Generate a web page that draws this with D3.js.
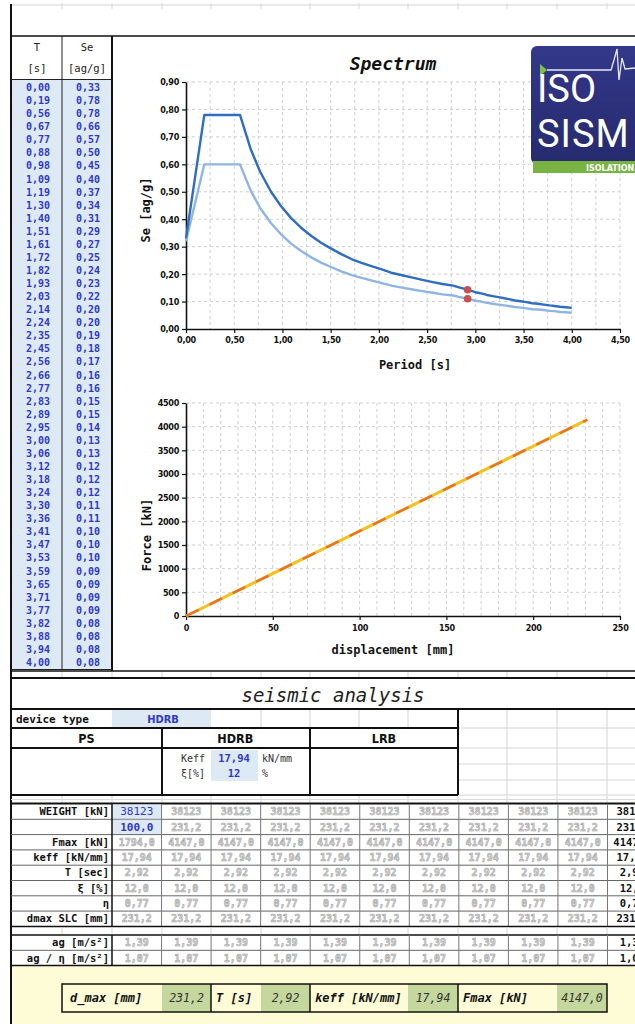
<!DOCTYPE html>
<html><head><meta charset="utf-8">
<script src="https://cdn.jsdelivr.net/npm/d3@7"></script>
<style>
html,body{margin:0;padding:0;background:#fff;}
svg{display:block;}
</style></head><body>
<svg id="sheet" width="635" height="1024"></svg>
<script>
// ---- spectrum table (period T [s], elastic Se [ag/g], damped Se [ag/g]) ----
const periods = [0.00,0.19,0.56,0.67,0.77,0.88,0.98,1.09,1.19,1.30,1.40,1.51,1.61,1.72,1.82,1.93,2.03,2.14,2.24,2.35,2.45,2.56,2.66,2.77,2.83,2.89,2.95,3.00,3.06,3.12,3.18,3.24,3.30,3.36,3.41,3.47,3.53,3.59,3.65,3.71,3.77,3.82,3.88,3.94,4.00];
const seElastic = [0.330,0.780,0.780,0.656,0.572,0.501,0.450,0.404,0.370,0.339,0.314,0.292,0.273,0.254,0.241,0.228,0.217,0.204,0.196,0.187,0.179,0.171,0.164,0.158,0.152,0.146,0.140,0.134,0.130,0.124,0.120,0.116,0.112,0.108,0.104,0.101,0.098,0.094,0.092,0.089,0.086,0.084,0.081,0.079,0.077];
const seDamped = [0.320,0.600,0.600,0.505,0.440,0.386,0.347,0.311,0.285,0.261,0.242,0.225,0.210,0.196,0.186,0.176,0.167,0.157,0.151,0.144,0.138,0.132,0.126,0.122,0.117,0.112,0.108,0.103,0.100,0.095,0.092,0.089,0.086,0.083,0.080,0.078,0.075,0.072,0.071,0.069,0.066,0.065,0.062,0.061,0.059];
const designPeriod = 2.92;
const designSe = [0.143, 0.110];

// ---- force / displacement curve ----
const displacement = [0, 231.2];
const force = [0, 4147.0];

// ---- axis ticks ----
const periodTicks = [0,0.5,1,1.5,2,2.5,3,3.5,4,4.5];
const seTicks = [0,0.1,0.2,0.3,0.4,0.5,0.6,0.7,0.8,0.9];
const dispTicks = [0,50,100,150,200,250];
const forceTicks = [0,500,1000,1500,2000,2500,3000,3500,4000,4500];

// ---- seismic analysis table ----
const deviceType = "HDRB";
const deviceGroups = ["PS","HDRB","LRB"];
const keffInput = 17.94;
const dampingInput = 12;
const resultLabels = ["WEIGHT [kN]","","Fmax [kN]","keff [kN/mm]","T [sec]","ξ [%]","η","dmax SLC [mm]"];
const accelLabels = ["ag [m/s²]","ag / η [m/s²]"];
const firstColumn = [38123, 100.0, 1794.0, 17.94, 2.92, 12.0, 0.77, 231.2];
const otherColumns = [38123, 231.2, 4147.0, 17.94, 2.92, 12.0, 0.77, 231.2];
const accelValues = [1.39, 1.07];
const resultDigits = [0,1,1,2,2,1,2,1];
const summaryLabels = ["d_max [mm]","T [s]","keff [kN/mm]","Fmax [kN]"];
const summaryValues = [231.2, 2.92, 17.94, 4147.0];
const summaryDigits = [1,2,2,1];

const loc = d3.formatLocale({decimal:",", thousands:".", grouping:[3], currency:["",""]});
const fmt = d => loc.format("." + d + "f");

const MONO = "'DejaVu Sans Mono','Liberation Mono',monospace";
const COND = "'DejaVu Sans Condensed','DejaVu Sans',sans-serif";
const BLUE_TXT = "#2f38c6";
const CELL_BLUE = "#ddeaf6";

const svg = d3.select("#sheet");
svg.append("rect").attr("width",635).attr("height",1024).attr("fill","#fff");

function line(g, x1, y1, x2, y2, w, c) {
  g.append("line").attr("x1",x1).attr("y1",y1).attr("x2",x2).attr("y2",y2)
    .attr("stroke",c).attr("stroke-width",w);
}
// sheet column edges
const colEdges = [11,62,112,162,211,261,310,359,408,458,507,557,607];

// ---------- frame ----------
const frame = svg.append("g");
line(frame, 11, 5, 635, 5, 1, "#d2d2d2");
colEdges.slice(1).forEach(x => line(frame, x, 3, x, 9, 1, "#d8d8d8"));
line(frame, 11, 36, 635, 36, 1.5, "#111");
line(frame, 11, 4, 11, 1024, 2, "#111");

// ---------- left table ----------
const lt = svg.append("g");
lt.append("rect").attr("x",12).attr("y",80).attr("width",99).attr("height",589).attr("fill",CELL_BLUE);
line(lt, 62, 36, 62, 670, 1, "#222");
line(lt, 11, 79.5, 112, 79.5, 1, "#222");
line(lt, 11, 669.5, 112, 669.5, 1, "#222");
line(lt, 112, 36, 112, 671, 2, "#111");
[["T",37],["Se",87]].forEach(([t,x]) => lt.append("text").attr("x",x).attr("y",51).attr("text-anchor","middle")
  .attr("font-family",MONO).attr("font-size",10.5).attr("fill","#222").text(t));
[["[s]",37],["[ag/g]",87]].forEach(([t,x]) => lt.append("text").attr("x",x).attr("y",72).attr("text-anchor","middle")
  .attr("font-family",MONO).attr("font-size",10.5).attr("fill","#222").text(t));
const rowBand = d3.scaleBand().domain(d3.range(periods.length)).range([81,669]);
periods.forEach((t,i) => {
  const yy = rowBand(i) + rowBand.bandwidth()/2 + 3.5;
  lt.append("text").attr("x",38).attr("y",yy).attr("text-anchor","middle").attr("font-family",MONO)
    .attr("font-weight","bold").attr("font-size",10).attr("fill",BLUE_TXT).text(fmt(2)(t));
  lt.append("text").attr("x",88).attr("y",yy).attr("text-anchor","middle").attr("font-family",MONO)
    .attr("font-weight","bold").attr("font-size",10).attr("fill",BLUE_TXT).text(fmt(2)(seElastic[i]));
});

// chart area bottom edge
line(frame, 11, 671, 635, 671, 1.5, "#111");
colEdges.slice(1).forEach(x => line(frame, x, 672, x, 677, 1, "#d4d4d4"));
line(frame, 11, 678, 635, 678, 2, "#111");

// ---------- spectrum chart ----------
const sp = svg.append("g");
const xs = d3.scaleLinear().domain([0,4.5]).range([186,620]);
const ys = d3.scaleLinear().domain([0,0.9]).range([329,82]);
sp.append("text").attr("x",393).attr("y",70).attr("text-anchor","middle").attr("font-family",MONO)
  .attr("font-weight","bold").attr("font-style","italic").attr("font-size",18).attr("fill","#111").text("Spectrum");
const grid = sp.append("g");
d3.range(0.25,4.51,0.25).forEach(v => line(grid, xs(v), ys(0.9), xs(v), ys(0), 1, "#cfcfcf"));
seTicks.slice(1).forEach(v => line(grid, xs(0), ys(v), xs(4.5), ys(v), 1, "#cfcfcf"));
grid.selectAll("line").attr("stroke-dasharray","3,3");
function styleAxis(g) {
  g.select(".domain").attr("stroke","#111").attr("stroke-width",1.6);
  g.selectAll(".tick line").attr("stroke","#111").attr("stroke-width",1.2);
  g.selectAll(".tick text").attr("font-family",COND).attr("font-weight","bold").attr("font-size",9)
    .attr("fill","#111").attr("letter-spacing","-0.3");
}
sp.append("g").attr("transform",`translate(${xs(0)},0)`)
  .call(d3.axisLeft(ys).tickValues(seTicks).tickFormat(fmt(2)).tickSize(4).tickSizeOuter(0).tickPadding(3))
  .call(styleAxis);
sp.append("g").attr("transform",`translate(0,${ys(0)})`)
  .call(d3.axisBottom(xs).tickValues(periodTicks).tickFormat(fmt(2)).tickSize(4).tickSizeOuter(0).tickPadding(4))
  .call(styleAxis);
const spLine = d3.line().x(d => xs(d[0])).y(d => ys(d[1]));
sp.append("path").attr("d", spLine(periods.map((t,i)=>[t,seDamped[i]])))
  .attr("fill","none").attr("stroke","#8fb5e4").attr("stroke-width",2.4).attr("stroke-linejoin","round");
sp.append("path").attr("d", spLine(periods.map((t,i)=>[t,seElastic[i]])))
  .attr("fill","none").attr("stroke","#2f6dc3").attr("stroke-width",2.4).attr("stroke-linejoin","round");
designSe.forEach(v => sp.append("circle").attr("cx",xs(designPeriod)).attr("cy",ys(v)).attr("r",3.8).attr("fill","#c9504e"));
sp.append("text").attr("transform",`translate(150,210) rotate(-90)`).attr("text-anchor","middle")
  .attr("font-family",MONO).attr("font-weight","bold").attr("font-size",12).attr("fill","#111").text("Se [ag/g]");
sp.append("text").attr("x",415).attr("y",369).attr("text-anchor","middle")
  .attr("font-family",MONO).attr("font-weight","bold").attr("font-size",12).attr("fill","#111").text("Period [s]");

// ---------- logo ----------
const logo = svg.append("g");
const grad = svg.append("defs").append("linearGradient").attr("id","logoBg").attr("x1",0).attr("y1",0).attr("x2",0).attr("y2",1);
grad.append("stop").attr("offset","0%").attr("stop-color","#33388a");
grad.append("stop").attr("offset","100%").attr("stop-color","#262a6e");
logo.append("rect").attr("x",531).attr("y",46).attr("width",120).attr("height",118).attr("rx",6).attr("fill","url(#logoBg)");
logo.append("rect").attr("x",533).attr("y",161).attr("width",110).attr("height",12).attr("fill","#78b343");
logo.append("text").attr("x",586).attr("y",170.5).attr("font-family","'DejaVu Sans',sans-serif").attr("font-weight","bold")
  .attr("font-size",8).attr("fill","#fff").text("ISOLATION");
logo.append("path").attr("d","M540,64 L547,70 L540,76 Z").attr("fill","#7cc142");
logo.append("path").attr("d","M547,70 L611,70 L614,60 L617,49 L619,80 L622,58 L625,69 L635,68")
  .attr("fill","none").attr("stroke","#e8e8f4").attr("stroke-width",1.3);
logo.append("text").attr("x",537).attr("y",102).attr("font-family","Roboto,'Open Sans',sans-serif")
  .attr("font-size",38).attr("fill","#fff").text("ISO");
logo.append("text").attr("x",537).attr("y",147).attr("font-family","Roboto,'Open Sans',sans-serif")
  .attr("font-size",38).attr("fill","#fff").attr("letter-spacing","1").text("SISM");

// ---------- force / displacement chart ----------
const fc = svg.append("g");
const xf = d3.scaleLinear().domain([0,250]).range([186,620]);
const yf = d3.scaleLinear().domain([0,4500]).range([616,403]);
const fgrid = fc.append("g");
d3.range(10,251,10).forEach(v => line(fgrid, xf(v), yf(4500), xf(v), yf(0), 1, "#cfcfcf"));
forceTicks.slice(1).forEach(v => line(fgrid, xf(0), yf(v), xf(250), yf(v), 1, "#cfcfcf"));
fgrid.selectAll("line").attr("stroke-dasharray","3,3");
fc.append("g").attr("transform",`translate(${xf(0)},0)`)
  .call(d3.axisLeft(yf).tickValues(forceTicks).tickFormat(fmt(0)).tickSize(4).tickSizeOuter(0).tickPadding(3))
  .call(styleAxis);
fc.append("g").attr("transform",`translate(0,${yf(0)})`)
  .call(d3.axisBottom(xf).tickValues(dispTicks).tickFormat(fmt(0)).tickSize(4).tickSizeOuter(0).tickPadding(5))
  .call(styleAxis);
const fLine = d3.line().x(d => xf(d[0])).y(d => yf(d[1]));
const fPts = displacement.map((d,i)=>[d,force[i]]);
fc.append("path").attr("d",fLine(fPts)).attr("fill","none").attr("stroke","#f3c21c").attr("stroke-width",3);
fc.append("path").attr("d",fLine(fPts)).attr("fill","none").attr("stroke","#e8682a").attr("stroke-width",2.4)
  .attr("stroke-dasharray","14,12").attr("opacity",0.9);
fc.append("text").attr("transform",`translate(151,535) rotate(-90)`).attr("text-anchor","middle")
  .attr("font-family",MONO).attr("font-weight","bold").attr("font-size",12).attr("fill","#111").text("Force [kN]");
fc.append("text").attr("x",393).attr("y",654).attr("text-anchor","middle")
  .attr("font-family",MONO).attr("font-weight","bold").attr("font-size",12).attr("fill","#111").text("displacement [mm]");

// ---------- seismic analysis header block ----------
const sa = svg.append("g");
sa.append("text").attr("x",333).attr("y",702).attr("text-anchor","middle").attr("font-family",MONO)
  .attr("font-style","italic").attr("font-size",19).attr("fill","#222").text("seismic analysis");
line(sa, 11, 709, 635, 709, 2, "#111");
// light grid on the right side
[507,557,607].forEach(x => line(sa, x, 710, x, 795, 1, "#d4d4d4"));
[261,310,359,408].forEach(x => line(sa, x, 710, x, 727, 1, "#d4d4d4"));
[728,748,764,780,795].forEach(y => line(sa, 459, y, 635, y, 1, "#d4d4d4"));
sa.append("rect").attr("x",112).attr("y",710).attr("width",99).attr("height",17).attr("fill",CELL_BLUE);
sa.append("text").attr("x",16).attr("y",723).attr("font-family",MONO).attr("font-weight","bold")
  .attr("font-size",11).attr("fill","#111").text("device type");
sa.append("text").attr("x",163).attr("y",723).attr("text-anchor","middle").attr("font-family",COND).attr("font-weight","bold")
  .attr("font-size",11).attr("fill",BLUE_TXT).text(deviceType);
line(sa, 11, 728, 458, 728, 2, "#111");
line(sa, 11, 748, 458, 748, 2, "#111");
line(sa, 11, 795, 458, 795, 2, "#111");
[162,310].forEach(x => line(sa, x, 728, x, 795, 2, "#111"));
line(sa, 458, 709, 458, 795, 2, "#111");
const groupX = d3.scalePoint().domain(deviceGroups).range([86.5,384]);
deviceGroups.forEach(g => sa.append("text").attr("x",groupX(g)).attr("y",743).attr("text-anchor","middle")
  .attr("font-family",COND).attr("font-weight","bold").attr("font-size",12.5).attr("fill","#111").text(g));
sa.append("rect").attr("x",211).attr("y",750).attr("width",47).attr("height",31).attr("fill",CELL_BLUE);
[["Keff",fmt(2)(keffInput),"kN/mm",762],["ξ[%]",String(dampingInput),"%",777]].forEach(([lab,val,unit,yy]) => {
  sa.append("text").attr("x",205).attr("y",yy).attr("text-anchor","end").attr("font-family",MONO)
    .attr("font-size",10).attr("fill","#333").text(lab);
  sa.append("text").attr("x",234).attr("y",yy).attr("text-anchor","middle").attr("font-family",MONO)
    .attr("font-weight","bold").attr("font-size",10.5).attr("fill",BLUE_TXT).text(val);
  sa.append("text").attr("x",262).attr("y",yy).attr("font-family",MONO)
    .attr("font-size",10).attr("fill","#333").text(unit);
});
colEdges.slice(1).forEach(x => line(sa, x, 796, x, 803, 1, "#d4d4d4"));
line(sa, 11, 799.5, 635, 799.5, 1, "#dcdcdc");
line(sa, 11, 803.5, 635, 803.5, 2, "#111");

// ---------- results table ----------
const rt = svg.append("g");
const rowH = 15.3;
const valueCols = d3.range(11).map(i => colEdges[2] + i*49.55);   // 38123 column, 9 copies, summary column
const rowsTop1 = 804, rowsTop2 = 935;
function drawRows(labels, top, cellValues, digits) {
  labels.forEach((lab, r) => {
    const y0 = top + r*rowH, yc = y0 + rowH/2 + 3.6;
    if (r > 0) line(rt, 11, y0, 635, y0, 1, "#666");
    rt.append("text").attr("x",109).attr("y",yc).attr("text-anchor","end").attr("font-family",MONO)
      .attr("font-weight","bold").attr("font-size",10.5).attr("fill","#111").text(lab);
    cellValues(r).forEach((c, k) => {
      const cx = valueCols[k] + 24.8;
      if (c.bg) rt.append("rect").attr("x",valueCols[k]+0.5).attr("y",y0+0.5).attr("width",49).attr("height",rowH-1).attr("fill",c.bg);
      rt.append("text").attr("x",cx).attr("y",yc).attr("text-anchor","middle").attr("font-family",MONO)
        .attr("font-weight",c.bold ? "bold" : "normal").attr("font-size",c.size || 10.5).attr("fill",c.color)
        .attr("stroke",c.stroke || null).attr("stroke-width",c.stroke ? 0.5 : null)
        .text(fmt(digits[r])(c.v));
    });
  });
  const bottom = top + labels.length*rowH;
  line(rt, 112, top, 112, bottom, 1.5, "#111");
  valueCols.slice(1).forEach(x => line(rt, x, top, x, bottom, 1, "#777"));
  return bottom;
}
const faded = {color:"#d8d8d8", stroke:"#9a9a9a", bold:true, size:10};
const b1 = drawRows(resultLabels, rowsTop1, r => valueCols.map((x,k) => {
  if (k === 0) {
    if (r === 0) return {v:firstColumn[r], color:BLUE_TXT, bg:CELL_BLUE, size:11};
    if (r === 1) return {v:firstColumn[r], color:BLUE_TXT, bg:CELL_BLUE, bold:true, size:11};
    return Object.assign({v:firstColumn[r]}, faded);
  }
  if (k === 10) return {v:otherColumns[r], color:"#111", bold:true};
  return Object.assign({v:otherColumns[r]}, faded);
}), resultDigits);
line(rt, 11, b1, 635, b1, 1.5, "#111");
colEdges.slice(1).forEach(x => line(rt, x, b1+1, x, rowsTop2-1, 1, "#d4d4d4"));
line(rt, 11, rowsTop2, 635, rowsTop2, 1.5, "#111");
const b2 = drawRows(accelLabels, rowsTop2, r => valueCols.map((x,k) =>
  k === 10 ? {v:accelValues[r], color:"#111", bold:true} : Object.assign({v:accelValues[r]}, faded)), [2,2]);

// ---------- summary footer ----------
const ft = svg.append("g");
ft.append("rect").attr("x",12).attr("y",b2).attr("width",623).attr("height",1024-b2).attr("fill","#fefcd6");
line(ft, 11, b2, 635, b2, 1.5, "#111");
const sumEdges = [[62,162,211],[211,261,310],[310,408,458],[458,557,607]];
const boxTop = 984, boxH = 28;
sumEdges.forEach(([a,b,c], i) => {
  ft.append("rect").attr("x",b).attr("y",boxTop).attr("width",c-b).attr("height",boxH).attr("fill","#c4d79c");
  ft.append("text").attr("x",a + (i===0 ? 8 : 5)).attr("y",boxTop+18).attr("font-family",MONO).attr("font-weight","bold")
    .attr("font-style","italic").attr("font-size",12).attr("fill","#111").text(summaryLabels[i]);
  ft.append("text").attr("x",(b+c)/2).attr("y",boxTop+18).attr("text-anchor","middle").attr("font-family",MONO)
    .attr("font-style","italic").attr("font-size",11.5).attr("fill","#333").text(fmt(summaryDigits[i])(summaryValues[i]));
});
ft.append("rect").attr("x",62).attr("y",boxTop).attr("width",545).attr("height",boxH).attr("fill","none")
  .attr("stroke","#111").attr("stroke-width",1.5);
[211,310,458].forEach(x => line(ft, x, boxTop, x, boxTop+boxH, 1.5, "#111"));
</script>
</body></html>
